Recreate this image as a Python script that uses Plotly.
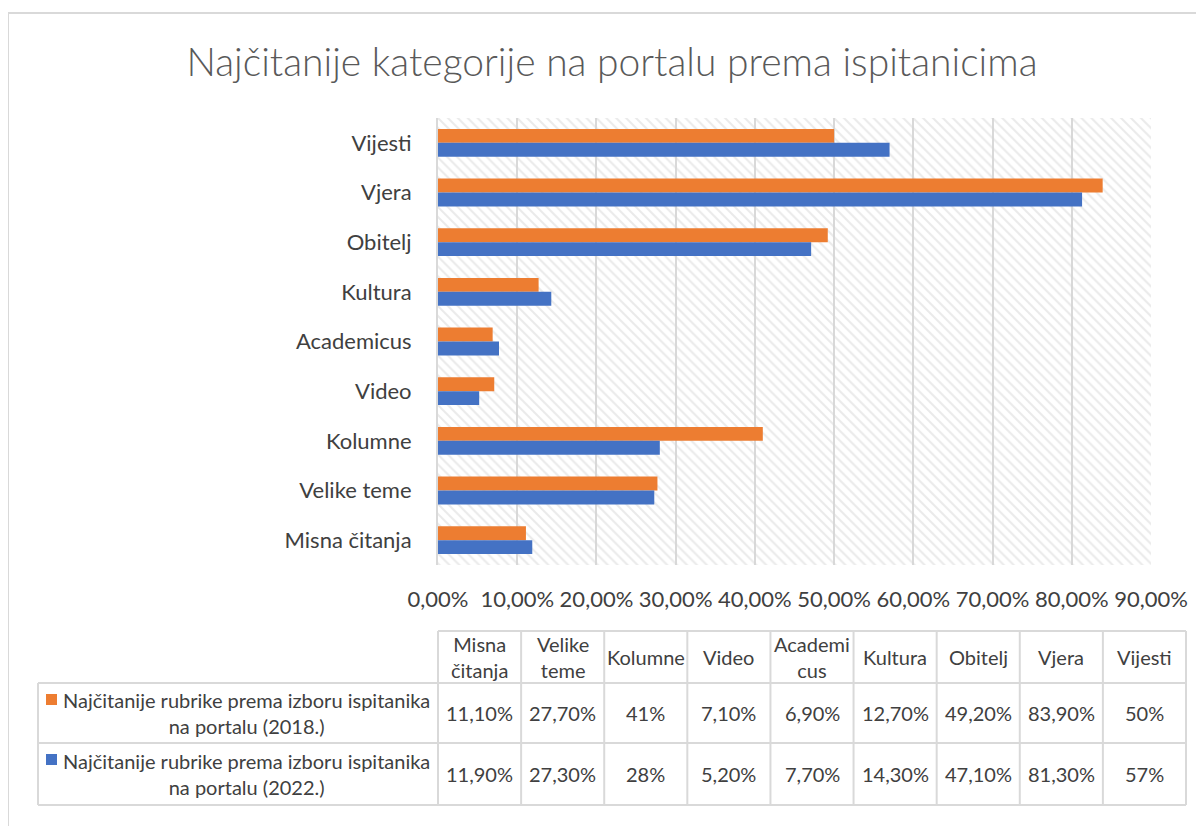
import plotly.graph_objects as go

categories = ["Misna čitanja", "Velike teme", "Kolumne", "Video", "Academicus",
              "Kultura", "Obitelj", "Vjera", "Vijesti"]
header_labels = ["Misna<br>čitanja", "Velike<br>teme", "Kolumne", "Video", "Academi<br>cus",
                 "Kultura", "Obitelj", "Vjera", "Vijesti"]
vals_2018 = [11.1, 27.7, 41, 7.1, 6.9, 12.7, 49.2, 83.9, 50]
vals_2022 = [11.9, 27.3, 28, 5.2, 7.7, 14.3, 47.1, 81.3, 57]
series_names = ["Najčitanije rubrike prema izboru ispitanika<br>na portalu (2018.)",
                "Najčitanije rubrike prema izboru ispitanika<br>na portalu (2022.)"]
x_ticks = [0, 10, 20, 30, 40, 50, 60, 70, 80, 90]
x_ticktext = [f"{v:.2f}".replace(".", ",") + "%" for v in x_ticks]
title_text = "Najčitanije kategorije na portalu prema ispitanicima"

ORANGE = "#ED7D31"
BLUE = "#4472C4"
GRID = "#d9d9d9"
TXT = "#404040"
FONT = "Lato"

OFF = 8  # page body margin
SW, SH = 1204, 826  # screenshot size
W, H = SW - OFF, SH - OFF
L, R, T, B = 438, 1151, 118, 565  # plot area in screenshot pixels


def px(x):
    return (x - L) / (R - L)


def py(y):
    return (B - y) / (B - T)


def fmt(v):
    if float(v).is_integer():
        return f"{int(v)}%"
    return f"{v:.2f}".replace(".", ",") + "%"


ypos = list(range(len(categories)))

fig = go.Figure()
# hatched plot-area background
fig.add_trace(go.Bar(
    x=[x_ticks[-1]], y=[(len(categories) - 1) / 2], base=[0], width=[len(categories)],
    orientation="h", marker=dict(color="rgba(0,0,0,0)", line=dict(width=0),
                                 pattern=dict(shape="\\", fgcolor="#d6d6d6", size=7, solidity=0.3)),
    hoverinfo="skip", showlegend=False))
fig.add_trace(go.Bar(x=vals_2018, y=ypos, orientation="h", offset=0, width=0.28,
                     marker=dict(color=ORANGE, line=dict(width=0)), name="2018", showlegend=False))
fig.add_trace(go.Bar(x=vals_2022, y=ypos, orientation="h", offset=-0.28, width=0.28,
                     marker=dict(color=BLUE, line=dict(width=0)), name="2022", showlegend=False))

shapes = []
annotations = []
line = dict(color=GRID, width=2)

# chart border (top and left visible)
shapes.append(dict(type="line", xref="paper", yref="paper", x0=px(8), x1=px(1215), y0=py(13), y1=py(13), line=line))
shapes.append(dict(type="line", xref="paper", yref="paper", x0=px(8), x1=px(8), y0=py(13), y1=py(840), line=line))

# data table
tl, tr = 438, 1186
row_y = [631, 683, 743, 805]
ncol = len(categories)
col_x = [tl + i * (tr - tl) / ncol for i in range(ncol + 1)]
shapes.append(dict(type="line", xref="paper", yref="paper", x0=px(tl), x1=px(tr), y0=py(row_y[0]), y1=py(row_y[0]), line=line))
for yy in row_y[1:]:
    shapes.append(dict(type="line", xref="paper", yref="paper", x0=px(38), x1=px(tr), y0=py(yy), y1=py(yy), line=line))
shapes.append(dict(type="line", xref="paper", yref="paper", x0=px(38), x1=px(38), y0=py(row_y[1]), y1=py(row_y[3]), line=line))
for xx in col_x:
    shapes.append(dict(type="line", xref="paper", yref="paper", x0=px(xx), x1=px(xx), y0=py(row_y[0]), y1=py(row_y[3]), line=line))

tfont = dict(family=FONT, size=20, color=TXT)


def ann(x, y, text):
    annotations.append(dict(xref="paper", yref="paper", x=px(x), y=py(y), text=text,
                            showarrow=False, font=tfont, align="center",
                            xanchor="center", yanchor="middle"))


for i in range(ncol):
    cx = (col_x[i] + col_x[i + 1]) / 2
    ann(cx, (row_y[0] + row_y[1]) / 2, header_labels[i])
    ann(cx, (row_y[1] + row_y[2]) / 2, fmt(vals_2018[i]))
    ann(cx, (row_y[2] + row_y[3]) / 2, fmt(vals_2022[i]))

for k, (name, col) in enumerate(zip(series_names, [ORANGE, BLUE])):
    y0, y1 = row_y[1 + k], row_y[2 + k]
    ann(246, (y0 + y1) / 2, name)
    sq_top = y0 + 11
    shapes.append(dict(type="rect", xref="paper", yref="paper", x0=px(46), x1=px(57),
                       y0=py(sq_top), y1=py(sq_top + 11), fillcolor=col, line=dict(width=0)))

fig.update_layout(
    width=W, height=H,
    margin=dict(l=L - OFF, r=W - (R - OFF), t=T - OFF, b=H - (B - OFF), pad=0),
    paper_bgcolor="white", plot_bgcolor="white",
    barmode="overlay",
    title=dict(text=title_text, x=(612 - OFF) / W, xanchor="center", y=1 - (62 - OFF) / H,
               yanchor="middle", xref="container", yref="container",
               font=dict(family=FONT, size=39, color="#595959", weight=300)),
    xaxis=dict(range=[0, x_ticks[-1]], tickvals=x_ticks, ticktext=x_ticktext,
               showgrid=True, gridcolor=GRID, gridwidth=2, zeroline=False, showline=False,
               ticks="outside", ticklen=15, tickcolor="rgba(0,0,0,0)",
               tickfont=dict(family=FONT, size=22, color=TXT), fixedrange=True),
    yaxis=dict(range=[-0.5, len(categories) - 0.5], tickvals=ypos, ticktext=categories,
               showgrid=False, zeroline=False, showline=True, linecolor=GRID, linewidth=2,
               ticks="outside", ticklen=20, tickcolor="rgba(0,0,0,0)",
               tickfont=dict(family=FONT, size=22, color=TXT), fixedrange=True),
    shapes=shapes, annotations=annotations,
    showlegend=False,
)

fig.write_html("out.html")
